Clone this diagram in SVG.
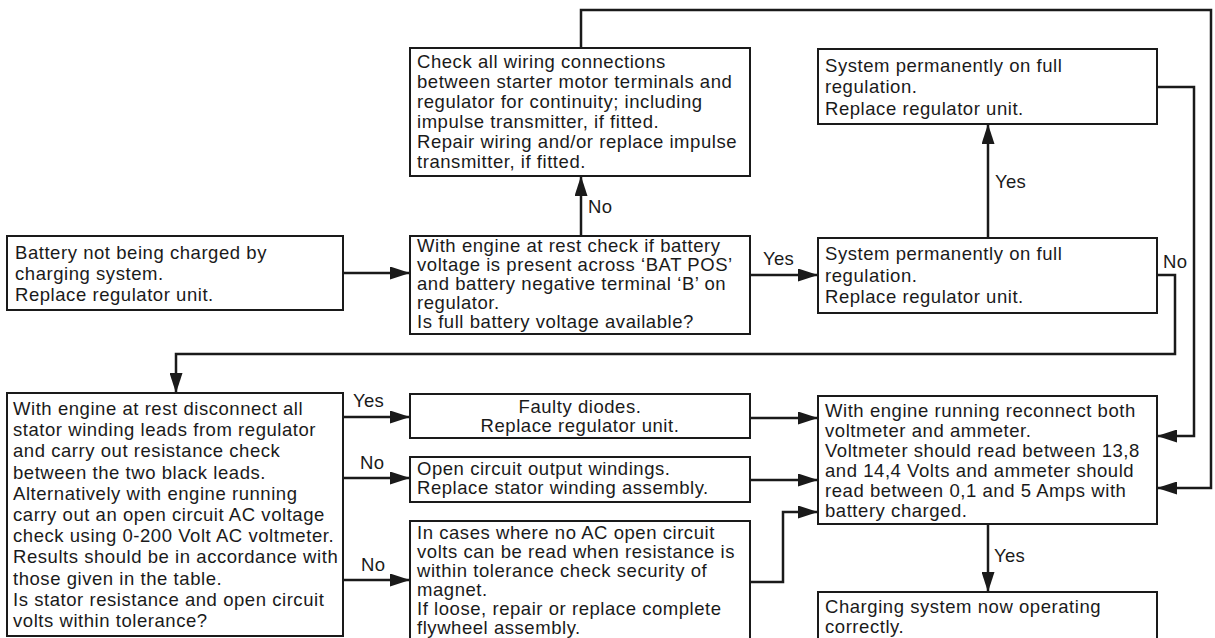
<svg xmlns="http://www.w3.org/2000/svg" width="1215" height="638" viewBox="0 0 1215 638">
<style>
.box{fill:#fff;stroke:#1a1a1a;stroke-width:2}
.t{font-family:"Liberation Sans",Arial,sans-serif;font-size:18.5px;letter-spacing:0.55px;fill:#1a1a1a}
.lb{font-family:"Liberation Sans",Arial,sans-serif;font-size:18.5px;letter-spacing:0.3px;fill:#1a1a1a}
.ca{fill:none;stroke:#1a1a1a;stroke-width:2.5;stroke-linejoin:miter;marker-end:url(#ah)}
</style>
<defs>
<marker id="ah" markerUnits="userSpaceOnUse" markerWidth="21" markerHeight="13" refX="20" refY="6.5" orient="auto">
<path d="M0,0 L20,6.5 L0,13 z" fill="#1a1a1a"/>
</marker>
</defs>
<rect width="1215" height="638" fill="#fff"/>

<g id="connectors">
<path class="ca" d="M343,273 H410"/>
<path class="ca" d="M581,236 V176"/>
<path class="ca" d="M581,48 V10 H1211 V488 H1157"/>
<path class="ca" d="M750,275 H818"/>
<path class="ca" d="M988,238 V124"/>
<path class="ca" d="M1157,87 H1194 V436 H1157"/>
<path class="ca" d="M1157,275 H1175 V354 H176 V393"/>
<path class="ca" d="M343,417 H410"/>
<path class="ca" d="M343,478 H410"/>
<path class="ca" d="M343,580 H410"/>
<path class="ca" d="M750,418 H818"/>
<path class="ca" d="M750,480 H818"/>
<path class="ca" d="M750,582 H783 V512 H818"/>
<path class="ca" d="M988,524 V592"/>
<text class="lb" x="588" y="213">No</text>
<text class="lb" x="763" y="265">Yes</text>
<text class="lb" x="995" y="188">Yes</text>
<text class="lb" x="1163" y="268">No</text>
<text class="lb" x="353" y="407">Yes</text>
<text class="lb" x="360" y="469">No</text>
<text class="lb" x="361" y="571">No</text>
<text class="lb" x="994" y="562">Yes</text>
</g>

<g id="battery">
<rect class="box" x="7" y="236" width="336" height="74"/>
<text class="t"><tspan x="15" y="259">Battery not being charged by</tspan><tspan x="15" y="280">charging system.</tspan><tspan x="15" y="301">Replace regulator unit.</tspan></text>
</g>

<g id="check-wiring">
<rect class="box" x="410" y="48" width="340" height="128"/>
<text class="t"><tspan x="417" y="68">Check all wiring connections</tspan><tspan x="417" y="88">between starter motor terminals and</tspan><tspan x="417" y="108">regulator for continuity; including</tspan><tspan x="417" y="128">impulse transmitter, if fitted.</tspan><tspan x="417" y="148">Repair wiring and/or replace impulse</tspan><tspan x="417" y="168">transmitter, if fitted.</tspan></text>
</g>

<g id="engine-rest">
<rect class="box" x="410" y="236" width="340" height="98"/>
<text class="t"><tspan x="417" y="252">With engine at rest check if battery</tspan><tspan x="417" y="271">voltage is present across ‘BAT POS’</tspan><tspan x="417" y="290">and battery negative terminal ‘B’ on</tspan><tspan x="417" y="309">regulator.</tspan><tspan x="417" y="328">Is full battery voltage available?</tspan></text>
</g>

<g id="full-reg-upper">
<rect class="box" x="818" y="49" width="339" height="75"/>
<text class="t"><tspan x="825" y="72">System permanently on full</tspan><tspan x="825" y="93">regulation.</tspan><tspan x="825" y="115">Replace regulator unit.</tspan></text>
</g>

<g id="full-reg-lower">
<rect class="box" x="818" y="238" width="339" height="75"/>
<text class="t"><tspan x="825" y="260">System permanently on full</tspan><tspan x="825" y="282">regulation.</tspan><tspan x="825" y="303">Replace regulator unit.</tspan></text>
</g>

<g id="stator-check">
<rect class="box" x="7" y="393" width="336" height="243"/>
<text class="t"><tspan x="13" y="415">With engine at rest disconnect all</tspan><tspan x="13" y="436.2">stator winding leads from regulator</tspan><tspan x="13" y="457.4">and carry out resistance check</tspan><tspan x="13" y="478.6">between the two black leads.</tspan><tspan x="13" y="499.8">Alternatively with engine running</tspan><tspan x="13" y="521">carry out an open circuit AC voltage</tspan><tspan x="13" y="542.2">check using 0-200 Volt AC voltmeter.</tspan><tspan x="13" y="563.4">Results should be in accordance with</tspan><tspan x="13" y="584.6">those given in the table.</tspan><tspan x="13" y="605.8">Is stator resistance and open circuit</tspan><tspan x="13" y="627">volts within tolerance?</tspan></text>
</g>

<g id="faulty-diodes">
<rect class="box" x="410" y="394" width="340" height="44"/>
<text class="t" text-anchor="middle"><tspan x="580" y="413">Faulty diodes.</tspan><tspan x="580" y="432">Replace regulator unit.</tspan></text>
</g>

<g id="open-circuit">
<rect class="box" x="410" y="457" width="340" height="45"/>
<text class="t"><tspan x="417" y="475">Open circuit output windings.</tspan><tspan x="417" y="494">Replace stator winding assembly.</tspan></text>
</g>

<g id="magnet">
<rect class="box" x="410" y="521" width="340" height="130"/>
<text class="t"><tspan x="417" y="539">In cases where no AC open circuit</tspan><tspan x="417" y="558">volts can be read when resistance is</tspan><tspan x="417" y="577">within tolerance check security of</tspan><tspan x="417" y="596">magnet.</tspan><tspan x="417" y="615">If loose, repair or replace complete</tspan><tspan x="417" y="634">flywheel assembly.</tspan></text>
</g>

<g id="running-check">
<rect class="box" x="818" y="396" width="339" height="128"/>
<text class="t"><tspan x="825" y="417">With engine running reconnect both</tspan><tspan x="825" y="437">voltmeter and ammeter.</tspan><tspan x="825" y="457">Voltmeter should read between 13,8</tspan><tspan x="825" y="477">and 14,4 Volts and ammeter should</tspan><tspan x="825" y="497">read between 0,1 and 5 Amps with</tspan><tspan x="825" y="517">battery charged.</tspan></text>
</g>

<g id="charging-ok">
<rect class="box" x="818" y="592" width="339" height="60"/>
<text class="t"><tspan x="825" y="613">Charging system now operating</tspan><tspan x="825" y="633">correctly.</tspan></text>
</g>
</svg>
